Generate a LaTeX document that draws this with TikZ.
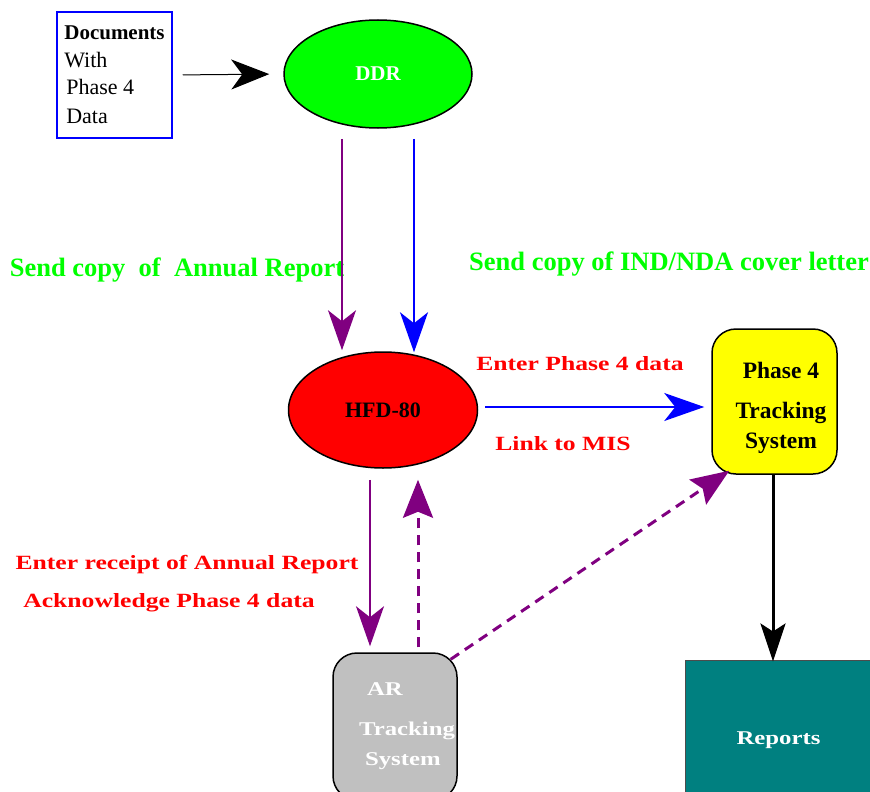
\documentclass[tikz,border=0pt]{standalone}
\usepackage{fontspec}
\setmainfont{Liberation Serif}
\newfontfamily\wideserif[FakeStretch=1.27]{Liberation Serif}
\usetikzlibrary{arrows.meta,shapes.geometric}

\definecolor{ddrgreen}{RGB}{0,255,0}
\definecolor{hfdred}{RGB}{255,0,0}
\definecolor{trackyellow}{RGB}{255,255,0}
\definecolor{argray}{RGB}{192,192,192}
\definecolor{rptteal}{RGB}{0,128,128}
\definecolor{flowpurple}{RGB}{128,0,128}
\definecolor{flowblue}{RGB}{0,0,255}

\begin{document}
\begin{tikzpicture}[x=1pt, y=-1pt,
  blob/.style={ellipse, draw=black, line width=1.5pt, inner sep=0pt},
  sysbox/.style={rectangle, rounded corners=24pt, draw=black, line width=1.5pt, inner sep=1pt},
  redlbl/.style={text=hfdred, font=\wideserif\bfseries\fontsize{20.2}{24}\selectfont},
  greenlbl/.style={text=ddrgreen, font=\bfseries\fontsize{26.5}{30}\selectfont},
  flowline/.style={line width=1.5pt, -{Stealth[length=40pt, width=28pt, inset=11pt]}},
  dashline/.style={line width=3pt, dash pattern=on 10pt off 7pt, -{Stealth[length=38pt, width=30pt, inset=6pt]}}]
  \useasboundingbox (0,0) rectangle (870,792);
  \clip (0,0) rectangle (870,792);

  % boxes and bubbles
  \node[draw=flowblue, line width=1.5pt, minimum width=115pt, minimum height=126pt,
        align=left, inner sep=3pt, font=\fontsize{22}{27.5}\selectfont] (docs) at (114.5,75)
    {{\bfseries\fontsize{21}{27.5}\selectfont Documents}\\With\\\hspace*{2pt}Phase 4\\[1.5pt]\hspace*{2pt}Data};
  \node[blob, fill=ddrgreen, minimum width=188pt, minimum height=108pt,
        text=white, font=\bfseries\fontsize{21}{24}\selectfont] (ddr) at (378,74) {DDR};
  \node[blob, fill=hfdred, minimum width=189pt, minimum height=116pt,
        font=\bfseries\fontsize{22}{24}\selectfont] (hfd) at (383,410) {HFD-80};
  \node[sysbox, fill=trackyellow, minimum width=125pt, minimum height=145pt, align=center,
        font=\bfseries\fontsize{23.5}{30}\selectfont] (p4) at (774.5,401.5)
    {\rule{0pt}{29pt}\hspace*{13pt}Phase 4\\[10pt]\hspace*{13pt}Tracking\\\hspace*{13pt}System};
  \node[sysbox, fill=argray, minimum width=124pt, minimum height=147pt, align=left,
        text=white, font=\wideserif\bfseries\fontsize{19.5}{30}\selectfont] (ar) at (395,726.5)
    {\hspace*{32pt}AR\\[10pt]\hspace*{24pt}Tracking\\\hspace*{30pt}System};
  \node[draw=black!70, line width=1pt, fill=rptteal, minimum width=187pt, minimum height=160pt,
        text=white, font=\wideserif\bfseries\fontsize{19.5}{24}\selectfont] (reports) at (778.5,740) {Reports};

  % labels
  \node[greenlbl] (sendar) at (177,270) {Send copy\ \ of\ \ Annual Report};
  \node[greenlbl] (sendind) at (669,264) {Send copy of IND/NDA cover letter};
  \node[redlbl] (enterp4) at (580,364) {Enter Phase 4 data};
  \node[redlbl] (linkmis) at (563,444) {Link to MIS};
  \node[redlbl] (enterar) at (187,565) {Enter receipt of Annual Report};
  \node[redlbl] (ackp4) at (169,603) {Acknowledge Phase 4 data};

  % connectors
  \draw[line width=1pt, -{Stealth[length=38pt, width=30pt, inset=11pt]}, shorten <=10pt, shorten >=14pt]
    (docs.east) -- (ddr.west);
  \draw[flowline, flowpurple] ([xshift=-36pt,yshift=-10pt]ddr.south) -- ([xshift=-41pt,yshift=1pt]hfd.north);
  \draw[flowline, flowblue] ([xshift=36pt,yshift=-10pt]ddr.south) -- ([xshift=31pt,yshift=-1pt]hfd.north);
  \draw[flowline, flowblue, shorten <=7pt, shorten >=7pt] ([yshift=3pt]hfd.east) -- ([yshift=-5.5pt]p4.west);
  \draw[flowline, flowpurple] ([xshift=-13pt,yshift=-11pt]hfd.south) -- ([xshift=-25pt,yshift=6pt]ar.north);
  \draw[dashline, flowpurple] ([xshift=23pt,yshift=5pt]ar.north) -- ([xshift=35pt,yshift=-11pt]hfd.south);
  \draw[dashline, flowpurple] ([xshift=-7pt,yshift=-7pt]ar.north east) -- ([xshift=18pt,yshift=4pt]p4.south west);
  \draw[line width=3pt, -{Stealth[length=38pt, width=25pt, inset=8pt]}]
    ([xshift=-1.5pt]p4.south) -- ([xshift=-5.5pt,yshift=-2pt]reports.north);
\end{tikzpicture}
\end{document}
